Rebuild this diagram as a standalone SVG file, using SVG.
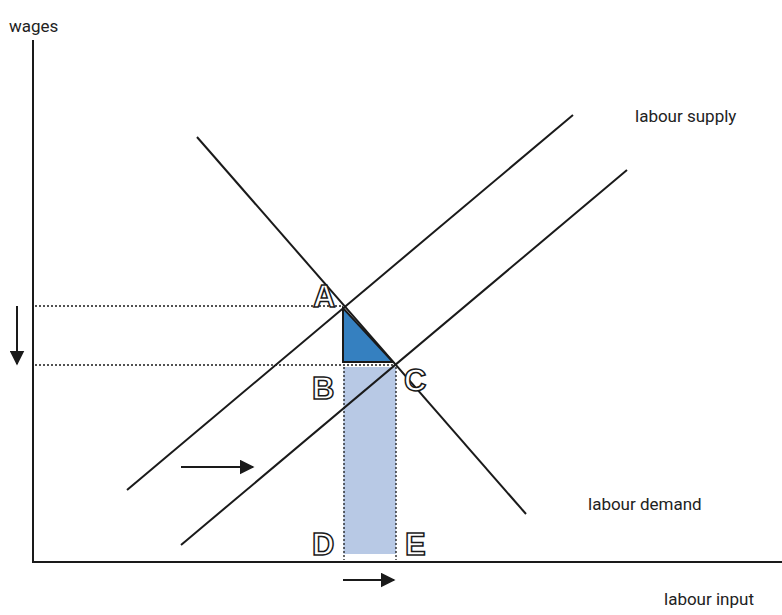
<svg xmlns="http://www.w3.org/2000/svg" width="782" height="615" viewBox="0 0 782 615">
<defs>
<style>
.ln{stroke:#1a1a1a;stroke-width:2;fill:none}
.dot{stroke:#1a1a1a;stroke-width:1.3;stroke-dasharray:2 2;fill:none}
.lbl{font-family:Roboto,"Liberation Sans",sans-serif;font-size:17px;fill:#222}
.pt{font-family:"Liberation Sans",Arial,sans-serif;font-weight:bold;font-size:31px;fill:#ffffff;stroke:#1a1a1a;stroke-width:1.5}
</style>
<marker id="ah" viewBox="0 0 10 10" refX="9" refY="5" markerWidth="7.5" markerHeight="7.5" orient="auto" markerUnits="strokeWidth"><path d="M0,0 L10,5 L0,10 z" fill="#1a1a1a"/></marker>
</defs>
<rect width="782" height="615" fill="#fff"/>
<g id="areas">
<rect x="343.5" y="367" width="52.5" height="187" fill="#b8c9e5"/>
<polygon points="343,308 343,362 393,362" fill="#3580c0" stroke="#1a1a1a" stroke-width="2"/>
</g>
<g id="connectors">
<line class="ln" x1="33" y1="40" x2="33" y2="562"/>
<line class="ln" x1="32" y1="562" x2="782" y2="562"/>
<line class="dot" x1="35" y1="306" x2="343" y2="306"/>
<line class="dot" x1="35" y1="365" x2="395" y2="365"/>
<line class="dot" x1="344" y1="367" x2="344" y2="560"/>
<line class="dot" x1="396" y1="367" x2="396" y2="560"/>
<line class="ln" x1="127" y1="490" x2="573" y2="115"/>
<line class="ln" x1="181" y1="545" x2="627" y2="170"/>
<line class="ln" x1="197" y1="137" x2="526" y2="514"/>
<line class="ln" x1="17" y1="306" x2="17" y2="364" marker-end="url(#ah)"/>
<line class="ln" x1="181" y1="467" x2="253" y2="467" marker-end="url(#ah)"/>
<line class="ln" x1="343" y1="580" x2="394" y2="580" marker-end="url(#ah)"/>
</g>
<g id="labels">
<text class="lbl" x="9" y="32">wages</text>
<text class="lbl" x="635" y="122">labour supply</text>
<text class="lbl" x="588" y="510">labour demand</text>
<text class="lbl" x="664" y="605">labour input</text>
</g>
<g id="points">
<text class="pt" x="313" y="307">A</text>
<text class="pt" x="312" y="399">B</text>
<text class="pt" x="404" y="391">C</text>
<text class="pt" x="312" y="555">D</text>
<text class="pt" x="405" y="555">E</text>
</g>
</svg>
